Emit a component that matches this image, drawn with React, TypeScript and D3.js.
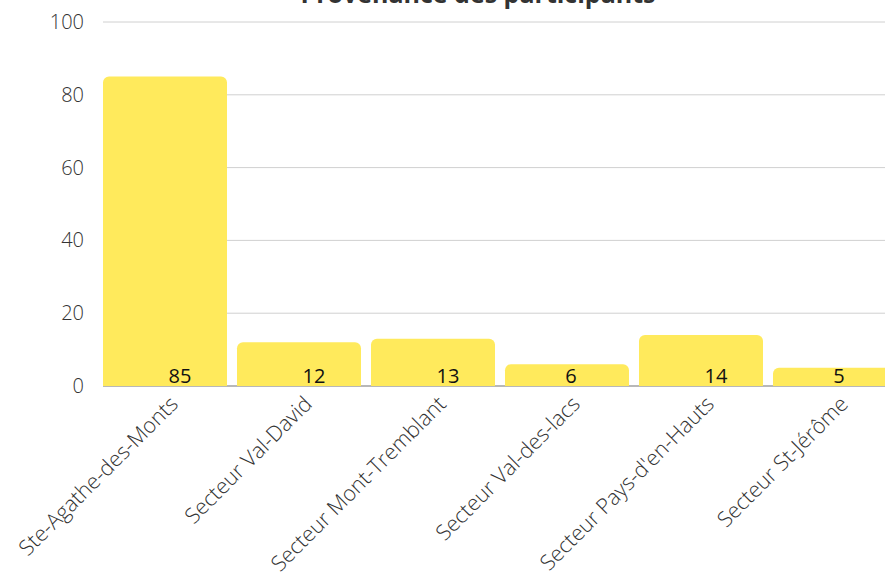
import React from "react";
import * as d3 from "d3";

const categories = [
  "Ste-Agathe-des-Monts",
  "Secteur Val-David",
  "Secteur Mont-Tremblant",
  "Secteur Val-des-lacs",
  "Secteur Pays-d'en-Hauts",
  "Secteur St-Jérôme",
];
const values = [85, 12, 13, 6, 14, 5];
const yTicks = [0, 20, 40, 60, 80, 100];
const title = "Provenance des participants";

const W = 885;
const H = 580;
const FONT = "'Open Sans', Lato, sans-serif";

function topRoundedRect(x: number, y: number, w: number, h: number, r: number) {
  const p = d3.path();
  const rr = Math.min(r, h, w / 2);
  p.moveTo(x, y + h);
  p.lineTo(x, y + rr);
  p.arcTo(x, y, x + rr, y, rr);
  p.lineTo(x + w - rr, y);
  p.arcTo(x + w, y, x + w, y + rr, rr);
  p.lineTo(x + w, y + h);
  p.closePath();
  return p.toString();
}

export default function App() {
  const x = d3
    .scaleBand<string>()
    .domain(categories)
    .range([103, 897])
    .paddingInner(10 / 134)
    .paddingOuter(0);
  const y = d3.scaleLinear().domain([0, 100]).range([386, 22]);

  return (
    <svg
      width={W}
      height={H}
      style={{ position: "absolute", left: 0, top: 0, display: "block", background: "#fff" }}
      fontFamily={FONT}
    >
      <text
        x={478}
        y={3}
        textAnchor="middle"
        fontSize={25}
        fontWeight={700}
        fill="#333"
      >
        {title}
      </text>
      {yTicks.map((t) => (
        <g key={t}>
          {t > 0 && (
            <line x1={103} x2={W} y1={y(t)} y2={y(t)} stroke="#d0d0d0" strokeWidth={1} />
          )}
          <text
            x={84}
            y={y(t)}
            dy="0.35em"
            textAnchor="end"
            fontSize={20}
            fontWeight={300}
            fill="#333"
          >
            {t}
          </text>
        </g>
      ))}
      <line x1={103} x2={W} y1={y(0)} y2={y(0)} stroke="#b8b8b8" strokeWidth={2} />
      {categories.map((c, i) => {
        const bx = x(c)!;
        const bw = x.bandwidth();
        const by = y(values[i]);
        const bh = y(0) - by;
        return (
          <g key={c}>
            <path d={topRoundedRect(bx, by, bw, bh, 6)} fill="#FFEA5C" />
            <text
              x={bx + bw / 2 + (values[i] >= 10 ? 15 : 4)}
              y={383}
              textAnchor="middle"
              fontSize={20}
              fontWeight={400}
              fill="#111"
            >
              {values[i]}
            </text>
          </g>
        );
      })}
      {categories.map((c) => {
        const cx = x(c)! + x.bandwidth() / 2 + 9;
        const cy = 400;
        return (
          <text
            key={c}
            transform={`translate(${cx},${cy}) rotate(-45)`}
            textAnchor="end"
            dy="0.35em"
            fontSize={21.5}
            fontWeight={300}
            fill="#333"
          >
            {c}
          </text>
        );
      })}
    </svg>
  );
}
